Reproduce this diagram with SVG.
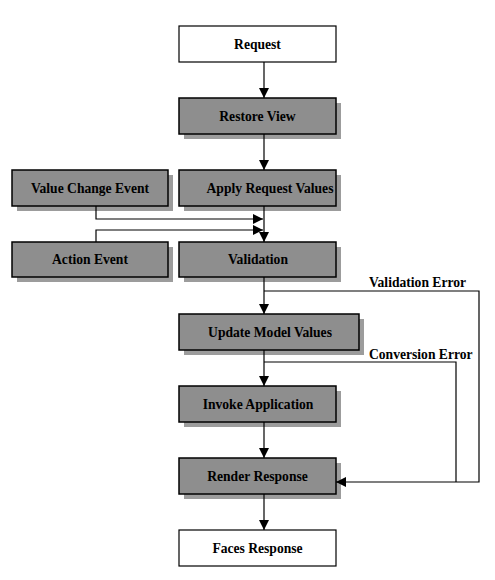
<svg xmlns="http://www.w3.org/2000/svg" width="495" height="580" viewBox="0 0 495 580">
<defs>
<style>
.box{fill:#8e8e8e;stroke:#000;stroke-width:1.5}
.wbox{fill:#fff;stroke:#000;stroke-width:1.2}
.sh{fill:#9c9c9c}
.t{font-family:"Liberation Serif","Times New Roman",serif;font-size:13.6px;font-weight:bold;fill:#000;text-anchor:middle}
.lbl{font-family:"Liberation Serif","Times New Roman",serif;font-size:13.6px;font-weight:bold;fill:#000}
.ln{fill:none;stroke:#000;stroke-width:1.2}
</style>
<marker id="ah" viewBox="0 0 10 10" refX="10" refY="5" markerWidth="10" markerHeight="10" markerUnits="userSpaceOnUse" orient="auto">
<path d="M0,0 L10,5 L0,10 Z" fill="#000"/>
</marker>
</defs>
<rect width="495" height="580" fill="#fff"/>
<g id="request"><rect class="wbox" x="179" y="26" width="157" height="36"/><text class="t" x="257.5" y="48.5">Request</text></g>
<g id="restore-view"><rect class="sh" x="184" y="103" width="157" height="36"/><rect class="box" x="179" y="98" width="157" height="36"/><text class="t" x="257.5" y="120.5">Restore View</text></g>
<g id="value-change-event"><rect class="sh" x="17" y="175" width="156" height="36"/><rect class="box" x="12" y="170" width="156" height="36"/><text class="t" x="90" y="192.5">Value Change Event</text></g>
<g id="apply-request-values"><rect class="sh" x="184" y="175" width="157" height="36"/><rect class="box" x="179" y="170" width="157" height="36"/><text class="t" x="270" y="192.5">Apply Request Values</text></g>
<g id="action-event"><rect class="sh" x="17" y="247" width="156" height="35"/><rect class="box" x="12" y="242" width="156" height="35"/><text class="t" x="90" y="264">Action Event</text></g>
<g id="validation"><rect class="sh" x="184" y="247" width="157" height="35"/><rect class="box" x="179" y="242" width="157" height="35"/><text class="t" x="258" y="264">Validation</text></g>
<g id="update-model-values"><rect class="sh" x="184" y="319" width="180" height="36"/><rect class="box" x="179" y="314" width="180" height="36"/><text class="t" x="270" y="336.5">Update Model Values</text></g>
<g id="invoke-application"><rect class="sh" x="184" y="391" width="157" height="36"/><rect class="box" x="179" y="386" width="157" height="36"/><text class="t" x="258" y="408.5">Invoke Application</text></g>
<g id="render-response"><rect class="sh" x="184" y="463" width="157" height="36"/><rect class="box" x="179" y="458" width="157" height="36"/><text class="t" x="257.5" y="480.5">Render Response</text></g>
<g id="faces-response"><rect class="wbox" x="179" y="530" width="157" height="36"/><text class="t" x="257.5" y="552.5">Faces Response</text></g>
<g id="connectors">
<line class="ln" x1="264" y1="62" x2="264" y2="98" marker-end="url(#ah)"/>
<line class="ln" x1="264" y1="134" x2="264" y2="170" marker-end="url(#ah)"/>
<line class="ln" x1="264" y1="206" x2="264" y2="242" marker-end="url(#ah)"/>
<polyline class="ln" points="96,206 96,219 263,219" marker-end="url(#ah)"/>
<polyline class="ln" points="96,242 96,230 263,230" marker-end="url(#ah)"/>
<line class="ln" x1="264" y1="277" x2="264" y2="314" marker-end="url(#ah)"/>
<line class="ln" x1="264" y1="350" x2="264" y2="386" marker-end="url(#ah)"/>
<line class="ln" x1="264" y1="422" x2="264" y2="458" marker-end="url(#ah)"/>
<line class="ln" x1="264" y1="494" x2="264" y2="530" marker-end="url(#ah)"/>
<polyline class="ln" points="264,291 479,291 479,482 336,482" marker-end="url(#ah)"/>
<polyline class="ln" points="264,362 456,362 456,482"/>
<text class="lbl" x="369" y="287">Validation Error</text>
<text class="lbl" x="369" y="359">Conversion Error</text>
</g>
</svg>
